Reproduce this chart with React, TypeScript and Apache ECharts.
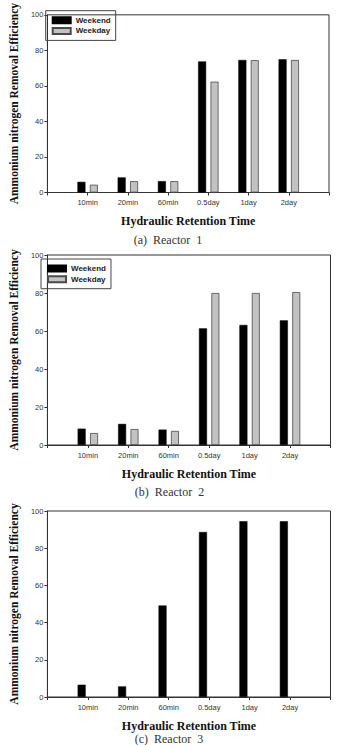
import React, { useEffect, useRef } from "react";
import * as echarts from "echarts";

const categories = ["10min", "20min", "60min", "0.5day", "1day", "2day"];
const seriesNames = ["Weekend", "Weekday"];

const reactor1Weekend = [6.0, 8.5, 6.4, 73.8, 74.6, 75.0];
const reactor1Weekday = [4.4, 6.4, 6.4, 62.4, 74.5, 74.6];

const reactor2Weekend = [8.6, 11.1, 8.1, 61.4, 63.2, 65.6];
const reactor2Weekday = [6.3, 8.4, 7.4, 80.0, 80.0, 80.5];

const reactor3Weekend = [6.6, 5.7, 49.2, 88.7, 94.5, 94.5];
const reactor3Weekday: (number | null)[] = [null, null, null, null, null, null];

const yTicks = [0, 20, 40, 60, 80, 100];
const captions = ["(a)  Reactor  1", "(b)  Reactor  2", "(c)  Reactor  3"];
const yName = "Ammonium nitrogen Removal Efficiency";
const xName = "Hydraulic Retention Time";

const SANS = "'Liberation Sans', Arial, sans-serif";
const SERIF = "'Liberation Serif', 'Times New Roman', serif";

const grids = [
  { left: 38, top: 4.5, width: 291, height: 188 },
  { left: 38, top: 255, width: 292.5, height: 190 },
  { left: 38, top: 511, width: 292.5, height: 186 },
];
const xNameGaps = [22, 23, 23];
const captionPos = [
  { x: 168, y: 240 },
  { x: 169.5, y: 492 },
  { x: 169, y: 739 },
];

export default function App() {
  const ref = useRef<HTMLDivElement>(null);

  useEffect(() => {
    if (!ref.current) return;
    const chart = echarts.init(ref.current, null, { renderer: "svg" });
    const axisCats = ["", ...categories, ""];
    const data = [
      [reactor1Weekend, reactor1Weekday],
      [reactor2Weekend, reactor2Weekday],
      [reactor3Weekend, reactor3Weekday],
    ];

    const xAxes = grids.map((_, i) => ({
      type: "category",
      gridIndex: i,
      data: axisCats,
      boundaryGap: false,
      name: xName,
      nameLocation: "middle",
      nameGap: xNameGaps[i],
      nameTextStyle: {
        fontFamily: SERIF,
        fontWeight: "bold",
        fontSize: 12,
        color: "#111111",
      },
      axisLine: { show: true, lineStyle: { color: "#333333", width: 1 } },
      axisTick: { show: true, length: 3, lineStyle: { color: "#333333" } },
      axisLabel: {
        fontFamily: SANS,
        fontSize: 7.5,
        color: "#333333",
        margin: 6,
        interval: 0,
      },
      splitLine: { show: false },
    }));

    const yAxes = grids.map((_, i) => ({
      type: "value",
      gridIndex: i,
      min: 0,
      max: 100,
      interval: 20,
      name: yName,
      nameLocation: "middle",
      nameRotate: 90,
      nameGap: 27,
      nameTextStyle: {
        fontFamily: SERIF,
        fontWeight: "bold",
        fontSize: 11.5,
        color: "#111111",
      },
      axisLine: { show: true, lineStyle: { color: "#333333", width: 1 } },
      axisTick: { show: true, length: 3, lineStyle: { color: "#333333" } },
      axisLabel: {
        fontFamily: SANS,
        fontSize: 7.5,
        color: "#333333",
        margin: 4,
        formatter: (v: number) => (yTicks.includes(v) ? String(v) : ""),
      },
      splitLine: { show: false },
    }));

    const series: any[] = [];
    data.forEach((pair, i) => {
      pair.forEach((vals, s) => {
        series.push({
          type: "bar",
          name: seriesNames[s],
          xAxisIndex: i,
          yAxisIndex: i,
          data: [null, ...vals, null],
          barWidth: 8,
          barGap: "55%",
          itemStyle:
            s === 0
              ? { color: "#000000", borderColor: "#000000", borderWidth: 0.5 }
              : { color: "#c2c2c2", borderColor: "#4a4a4a", borderWidth: 0.8 },
        });
      });
    });

    const legendBase = {
      orient: "vertical",
      itemWidth: 18,
      itemHeight: 6,
      itemGap: 0.7,
      padding: [4.5, 5, 4.5, 6],
      borderColor: "#444444",
      borderWidth: 1,
      icon: "rect",
      data: seriesNames,
      textStyle: {
        fontFamily: SANS,
        fontWeight: "bold",
        fontSize: 8,
        lineHeight: 10,
        color: "#222222",
      },
    };

    chart.setOption({
      animation: false,
      backgroundColor: "#ffffff",
      grid: grids.map((g) => ({ ...g, show: true, borderColor: "#333333", borderWidth: 1, backgroundColor: "transparent" })),
      xAxis: xAxes,
      yAxis: yAxes,
      legend: [
        { ...legendBase, left: 45.7, top: 10.7 },
        { ...legendBase, left: 41, top: 259 },
      ],
      series,
      graphic: captions.map((c, i) => ({
        type: "text",
        x: captionPos[i].x,
        y: captionPos[i].y,
        style: {
          text: c,
          fontFamily: SERIF,
          fontSize: 12,
          fill: "#333333",
          textAlign: "center",
          textVerticalAlign: "middle",
        },
      })),
    });

    return () => chart.dispose();
  }, []);

  return (
    <div
      ref={ref}
      style={{ position: "absolute", left: 0, top: 0, width: 337, height: 745 }}
    />
  );
}
